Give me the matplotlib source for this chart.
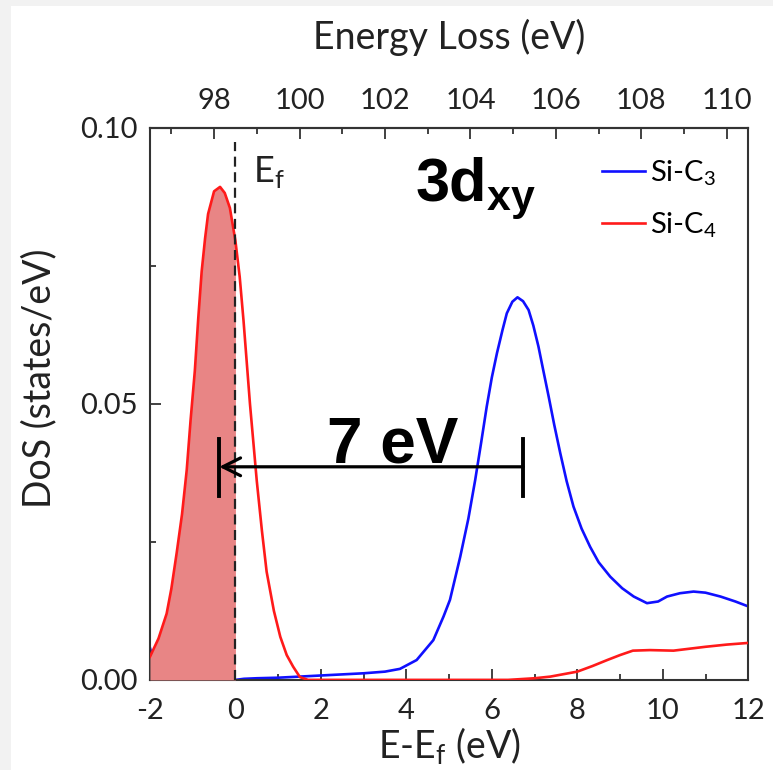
import numpy as np
import matplotlib
matplotlib.use('Agg')
from matplotlib import pyplot as plt
from matplotlib import patches as pts
from matplotlib.ticker import MultipleLocator, FixedLocator, FormatStrFormatter

plt.rcParams['font.family'] = ['Lato', 'DejaVu Sans']
plt.rcParams['mathtext.fontset'] = 'custom'
plt.rcParams['mathtext.rm'] = 'Lato'
plt.rcParams['mathtext.bf'] = 'Liberation Sans:bold'
plt.rcParams['axes.unicode_minus'] = False

# Si-C3 (blue) and Si-C4 (red) projected 3dxy DoS, E-Ef in eV
x_c3 = [-2.0, -1.9, -1.8, -1.6, -1.0, 0.0, 0.2, 0.5, 1.0, 1.5, 2.0, 2.5, 3.0, 3.5,
        3.85, 4.24, 4.63, 4.87, 5.02, 5.26, 5.45, 5.61, 5.75, 5.88, 6.0, 6.12,
        6.25, 6.35, 6.48, 6.6, 6.73, 6.86, 6.97, 7.09, 7.2, 7.33, 7.46, 7.6,
        7.75, 7.91, 8.1, 8.3, 8.5, 8.77, 9.05, 9.32, 9.63, 9.89, 10.1, 10.4,
        10.72, 11.0, 11.35, 11.7, 11.97, 12.0]
y_c3 = [0.0058, 0.0030, 0.0012, 0.0003, 0.0, 0.0, 0.0002, 0.0003, 0.0004, 0.0006,
        0.0008, 0.0010, 0.0012, 0.0015, 0.0020, 0.0036, 0.0072, 0.0115, 0.0145,
        0.0223, 0.0292, 0.0362, 0.0430, 0.0495, 0.0548, 0.0592, 0.0634, 0.0664,
        0.0685, 0.0693, 0.0686, 0.0670, 0.0642, 0.0604, 0.0562, 0.0513, 0.0462,
        0.0411, 0.0360, 0.0314, 0.0274, 0.0241, 0.0213, 0.0187, 0.0166, 0.0151,
        0.0139, 0.0142, 0.0151, 0.0157, 0.0160, 0.0158, 0.0151, 0.0142, 0.0134,
        0.0134]

x_c4 = [-2.0, -1.8, -1.61, -1.5, -1.375, -1.25, -1.14, -1.05, -0.95, -0.87, -0.79,
        -0.71, -0.64, -0.5, -0.36, -0.25, -0.13, 0.0, 0.1, 0.19, 0.27, 0.34,
        0.42, 0.5, 0.62, 0.73, 0.9, 1.05, 1.2, 1.35, 1.51, 1.7, 2.0, 3.0, 4.0,
        5.0, 6.0, 6.38, 7.0, 7.37, 8.0, 8.35, 8.7, 9.0, 9.3, 9.7, 10.25, 11.0,
        11.5, 12.0]
y_c4 = [0.0042, 0.0075, 0.0120, 0.0165, 0.0230, 0.0300, 0.0380, 0.0470, 0.0560,
        0.0655, 0.0740, 0.0800, 0.0844, 0.0885, 0.0893, 0.0882, 0.0855, 0.0795,
        0.0730, 0.0650, 0.0570, 0.0500, 0.0430, 0.0360, 0.0270, 0.0196, 0.0125,
        0.0078, 0.0045, 0.0024, 0.0005, 0.0, 0.0, 0.0, 0.0, 0.0, 0.0, 0.0,
        0.0003, 0.0006, 0.0015, 0.0025, 0.0036, 0.0045, 0.0053, 0.0054, 0.0053,
        0.0060, 0.0064, 0.0067]

e_loss_ticks = [98, 100, 102, 104, 106, 108, 110]

x_c3 = np.array(x_c3)
y_c3 = np.array(y_c3)
x_c4 = np.array(x_c4)
y_c4 = np.array(y_c4)

e_loss_offset = 98.5   # energy loss = E-Ef + offset
gap = 7                # 7 eV separation between the two peaks
gap_left, gap_right, gap_y = -0.38, 6.73, 0.0386

fig = plt.figure(figsize=(7.73, 7.70), dpi=100, facecolor='#f2f2f2')
# white page, thin grey margin on left and top
page = pts.Rectangle((11 / 773, 0), 1, 1 - 6 / 770, transform=fig.transFigure,
                     facecolor='white', edgecolor='none', zorder=-10)
fig.add_artist(page)
ax = fig.add_axes([0.194, 0.117, 0.774, 0.717])
ax.set_facecolor('white')

ax.plot(x_c3, y_c3, color='#1010ff', lw=1.9, zorder=2, label='Si-C$_\\mathregular{3}$')
ax.fill_between(x_c4, y_c4, 0, where=x_c4 <= 0, color='#e88585', lw=0, zorder=3)
ax.plot(x_c4, y_c4, color='#ff1a1a', lw=1.9, zorder=4, label='Si-C$_\\mathregular{4}$')

# Fermi level
ax.plot([0, 0], [0, 0.0975], color='#222222', lw=1.6, ls=(0, (4.5, 2.5)), zorder=5)
ax.text(0.4, 0.0902, 'E$_\\mathregular{f}$', fontsize=26, color='#222222')

# peak separation marker
ax.annotate('', xy=(gap_left, gap_y), xytext=(gap_right, gap_y),
            arrowprops=dict(arrowstyle='->', color='black', lw=2.3,
                            mutation_scale=32, shrinkA=0, shrinkB=0), zorder=6)
ax.plot([gap_left, gap_left], [gap_y - 0.0053, gap_y + 0.0051], color='black', lw=2.8, zorder=6)
ax.plot([gap_right, gap_right], [gap_y - 0.0053, gap_y + 0.0051], color='black', lw=2.8, zorder=6)
ax.text((gap_left + gap_right) / 2 + 0.5, gap_y + 0.0007, '%d eV' % gap,
        fontsize=46, fontweight='bold', family='Liberation Sans', ha='center', va='baseline')

ax.text(4.2, 0.0868, '3d$_\\mathbf{xy}$', fontsize=44, fontweight='bold',
        family='Liberation Sans')

ax.set_xlim(-2, 12)
ax.set_ylim(0, 0.10)
ax.xaxis.set_major_locator(MultipleLocator(2))
ax.xaxis.set_minor_locator(MultipleLocator(1))
ax.yaxis.set_major_locator(MultipleLocator(0.05))
ax.yaxis.set_minor_locator(MultipleLocator(0.025))
ax.yaxis.set_major_formatter(FormatStrFormatter('%.2f'))
ax.tick_params(which='both', direction='in', top=False, right=False,
               width=1.3, color='#333333', labelsize=21, labelcolor='#222222')
ax.tick_params(which='major', length=8, pad=9)
ax.tick_params(axis='x', which='major', pad=13)
ax.tick_params(which='minor', length=4)
for s in ax.spines.values():
    s.set_linewidth(1.5)
    s.set_color('#333333')

ax.set_xlabel('E-E$_\\mathregular{f}$ (eV)', fontsize=27, color='#222222', labelpad=1)
ax.set_ylabel('DoS (states/eV)', fontsize=27, color='#222222')
ax.yaxis.set_label_coords(-0.155, 0.547)

top = ax.secondary_xaxis('top', functions=(lambda x: x + e_loss_offset,
                                           lambda x: x - e_loss_offset))
top.xaxis.set_major_locator(FixedLocator(e_loss_ticks))
top.xaxis.set_minor_locator(FixedLocator(np.arange(97, 111)))
top.tick_params(which='both', direction='in', width=1.3, color='#333333',
                labelsize=21, labelcolor='#222222')
top.tick_params(which='major', length=8, pad=10)
top.tick_params(which='minor', length=4)
top.spines['top'].set_linewidth(1.5)
top.spines['top'].set_color('#333333')
top.set_xlabel('Energy Loss (eV)', fontsize=27, color='#222222', labelpad=28)

ax.legend(loc='upper right', frameon=False, fontsize=21, handlelength=1.45,
          handletextpad=0.2, labelspacing=0.75, borderaxespad=0.3,
          bbox_to_anchor=(0.982, 0.982))

fig.savefig('out.png', dpi=100, facecolor=fig.get_facecolor())
